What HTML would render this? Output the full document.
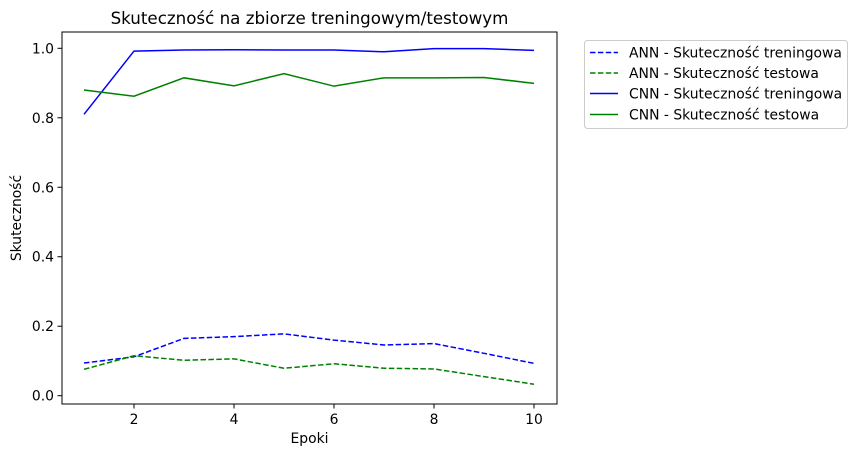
<!DOCTYPE html>
<html><head><meta charset="utf-8"><style>
body{margin:0;background:#fff;}
svg{display:block;font-family:"DejaVu Sans","Liberation Sans",sans-serif;}
</style></head><body>
<svg id="chart" width="857" height="455"></svg>
<script>
const epochs=[1,2,3,4,5,6,7,8,9,10];
const annTrain=[0.094,0.112,0.165,0.170,0.178,0.160,0.146,0.150,0.122,0.093];
const annTest=[0.076,0.115,0.102,0.106,0.079,0.092,0.079,0.077,0.055,0.033];
const cnnTrain=[0.81,0.992,0.995,0.996,0.995,0.995,0.990,0.999,0.999,0.994];
const cnnTest=[0.880,0.862,0.915,0.892,0.927,0.891,0.915,0.915,0.916,0.899];
const xTicks=[2,4,6,8,10];
const yTicks=[0,0.2,0.4,0.6,0.8,1.0];
const seriesNames=["ANN - Skuteczność treningowa","ANN - Skuteczność testowa","CNN - Skuteczność treningowa","CNN - Skuteczność testowa"];

const NS="http://www.w3.org/2000/svg";
const svg=document.getElementById('chart');
const L=62,R=557,T=32,B=404;
const FS=13.9;
const xs=v=>84+(v-1)*50;
const ys=v=>395.7-v*347.4;
function mk(tag,attrs,parent){const e=document.createElementNS(NS,tag);for(const k in attrs)e.setAttribute(k,attrs[k]);(parent||svg).appendChild(e);return e;}

const frame=mk('rect',{x:L,y:T,width:R-L,height:B-T,fill:'none',stroke:'#000','stroke-width':1});



xTicks.forEach(t=>{
  const l=mk('line',{x1:xs(t),x2:xs(t),y1:B,y2:B+4.5,stroke:'#000'});
  
  
  const tx=mk('text',{x:xs(t),y:B+20,'text-anchor':'middle','font-size':FS});
  tx.textContent=t;
  
  
});
yTicks.forEach(t=>{
  const l=mk('line',{x1:L-4.5,x2:L,y1:ys(t),y2:ys(t),stroke:'#000'});
  
  
  const tx=mk('text',{x:L-8,y:ys(t)+5,'text-anchor':'end','font-size':FS});
  tx.textContent=t.toFixed(1);
  
  
});

const series=[[annTrain,'#0000ff',true],[annTest,'#008000',true],[cnnTrain,'#0000ff',false],[cnnTest,'#008000',false]];
const snames=['ann-train-line','ann-test-line','cnn-train-line','cnn-test-line'];
series.forEach((s,i)=>{
  const pts=epochs.map((e,j)=>xs(e)+','+ys(s[0][j])).join(' ');
  const p=mk('polyline',{points:pts,fill:'none',stroke:s[1],'stroke-width':1.5});
  if(s[2])p.setAttribute('stroke-dasharray','5.5,2.4');
  
  
});

const title=mk('text',{x:(L+R)/2,y:24,'text-anchor':'middle','font-size':16.7});
title.textContent='Skuteczność na zbiorze treningowym/testowym';


const xt=mk('text',{x:(L+R)/2,y:443,'text-anchor':'middle','font-size':FS});
xt.textContent='Epoki';


const yt=mk('text',{x:21,y:(T+B)/2,'text-anchor':'middle','font-size':FS,transform:'rotate(-90 21 '+((T+B)/2)+')'});
yt.textContent='Skuteczność';



const lg=mk('g',{});


mk('rect',{x:584.5,y:40.5,width:263,height:88,rx:3,fill:'#fff',stroke:'#ccc'},lg);
const rowY=[52.5,73,93.5,114.5];
series.forEach((s,i)=>{
  const l=mk('line',{x1:590,x2:618,y1:rowY[i],y2:rowY[i],stroke:s[1],'stroke-width':1.5},lg);
  if(s[2])l.setAttribute('stroke-dasharray','5.5,2.4');
  
  
  const tx=mk('text',{x:629,y:rowY[i]+5,'font-size':FS},lg);
  tx.textContent=seriesNames[i];
  
  
});
</script>
</body></html>
